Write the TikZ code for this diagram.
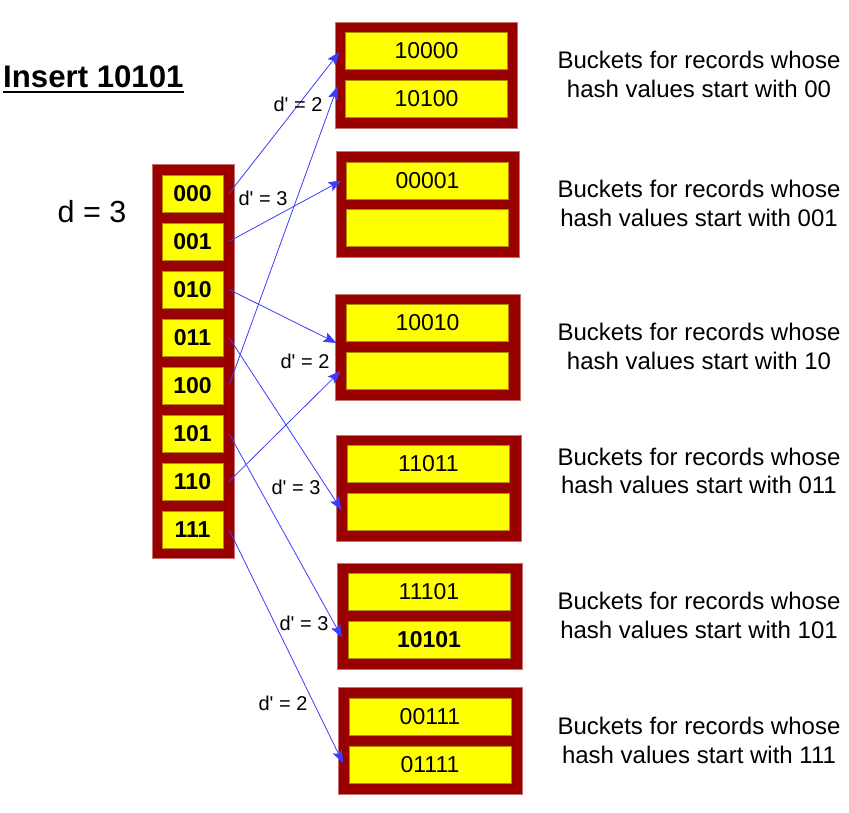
\documentclass[tikz,border=0pt]{standalone}
\usepackage{fontspec}
\setmainfont{Liberation Sans}
\usetikzlibrary{arrows.meta,calc}
\definecolor{dred}{HTML}{990000}
\definecolor{dredline}{HTML}{C87070}
\definecolor{ylw}{HTML}{FFFF00}
\definecolor{ylwline}{HTML}{B08A00}
\definecolor{arrblue}{HTML}{3C3CFF}
\tikzset{
  outerbox/.style={fill=dred,draw=dredline,line width=0.6pt},
  dircell/.style={fill=ylw,draw=ylwline,line width=0.6pt,minimum width=61pt,minimum height=37pt,inner sep=0pt,outer sep=0pt,font=\fontsize{23}{26}\selectfont\bfseries},
  bcell/.style={fill=ylw,draw=ylwline,line width=0.6pt,minimum width=162pt,minimum height=37pt,inner sep=0pt,outer sep=0pt,font=\fontsize{23}{26}\selectfont},
  ptr/.style={draw=arrblue,line width=0.8pt,-{Stealth[length=13pt,width=10pt,inset=2.5pt]}},
  dlab/.style={font=\fontsize{20}{23}\selectfont,inner sep=0pt},
  desc/.style={font=\fontsize{24}{28.5}\selectfont,align=center,inner sep=0pt}
}
\newcommand{\dprimelab}{d\textquotesingle{} = }
\begin{document}
\begin{tikzpicture}[x=1pt,y=-1pt]
\useasboundingbox (0,0) rectangle (849,813);
% title
\node[anchor=base west,inner sep=0pt,font=\fontsize{31.2}{34}\selectfont\bfseries] (title) at (3,88) {Insert 10101};
\draw[line width=2pt] ($(title.base west)+(0,4)$) -- ($(title.base east)+(0,4)$);
\node[anchor=base,inner sep=0pt,font=\fontsize{30.5}{33}\selectfont] (dglob) at (92,223) {d = 3};
% directory
\draw[outerbox] (152,164) rectangle (234,558);
\foreach \i/\t in {0/000,1/001,2/010,3/011,4/100,5/101,6/110,7/111}{
  \node[dircell] (d\i) at (192.5,{193.5+48*\i}) {\t};
}
% buckets
\draw[outerbox] (335,22) rectangle (517,128);
\node[bcell] (b1a) at (426.5,50.5) {10000};
\node[bcell] (b1b) at (426.5,98.5) {10100};
\draw[outerbox] (336,151) rectangle (519,257);
\node[bcell] (b2a) at (427.5,180.5) {00001};
\node[bcell] (b2b) at (427.5,228) {};
\draw[outerbox] (335,294) rectangle (520,400);
\node[bcell] (b3a) at (427.5,323) {10010};
\node[bcell] (b3b) at (427.5,370.5) {};
\draw[outerbox] (336,435) rectangle (521,541);
\node[bcell] (b4a) at (428.5,463.5) {11011};
\node[bcell] (b4b) at (428.5,511.5) {};
\draw[outerbox] (337,563) rectangle (522,669);
\node[bcell] (b5a) at (429,592) {11101};
\node[bcell,font=\fontsize{23}{26}\selectfont\bfseries] (b5b) at (429,639.5) {10101};
\draw[outerbox] (338,687) rectangle (522,794);
\node[bcell] (b6a) at (430,716.5) {00111};
\node[bcell] (b6b) at (430,764.5) {01111};
% pointers
\draw[ptr] ($(d0.east)+(6,0)$) -- ($(b1a.west)+(-6,1.5)$);
\draw[ptr] ($(d4.east)+(6,0)$) -- ($(b1b.west)+(-8,-12)$);
\draw[ptr] ($(d1.east)+(6,0)$) -- ($(b2a.west)+(-5,0)$);
\draw[ptr] ($(d2.east)+(6,0)$) -- ($(b3a.west)+(-10,20)$);
\draw[ptr] ($(d6.east)+(6,0)$) -- ($(b3b.west)+(-6,0.5)$);
\draw[ptr] ($(d3.east)+(6,0)$) -- ($(b4b.west)+(-6,-1.5)$);
\draw[ptr] ($(d5.east)+(6,0)$) -- ($(b5b.west)+(-6,-2)$);
\draw[ptr] ($(d7.east)+(6,0)$) -- ($(b6b.west)+(-6,-1.5)$);
% local depth labels
\node[dlab] (l1) at (298,104) {\dprimelab2};
\node[dlab] (l2) at (263,198) {\dprimelab3};
\node[dlab] (l3) at (305,361) {\dprimelab2};
\node[dlab] (l4) at (296,487) {\dprimelab3};
\node[dlab] (l5) at (304,623) {\dprimelab3};
\node[dlab] (l6) at (283,703) {\dprimelab2};
% descriptions
\node[desc] (t1) at (699,74.5) {Buckets for records whose\\hash values start with 00};
\node[desc] (t2) at (699,203.5) {Buckets for records whose\\hash values start with 001};
\node[desc] (t3) at (699,346.5) {Buckets for records whose\\hash values start with 10};
\node[desc] (t4) at (699,471) {Buckets for records whose\\hash values start with 011};
\node[desc] (t5) at (699,615.5) {Buckets for records whose\\hash values start with 101};
\node[desc] (t6) at (699,740.5) {Buckets for records whose\\hash values start with 111};
\end{tikzpicture}
\end{document}
